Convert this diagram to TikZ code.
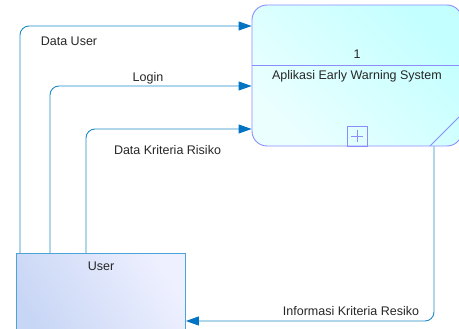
\documentclass[tikz,border=0pt]{standalone}
\usepackage{fontspec}
\setmainfont{Liberation Sans}
\usetikzlibrary{arrows.meta,calc}
\definecolor{flowc}{RGB}{30,140,200}
\definecolor{tipc}{RGB}{0,115,195}
\definecolor{procborder}{RGB}{140,140,255}
\definecolor{proctl}{RGB}{235,255,255}
\definecolor{procbr}{RGB}{195,255,255}
\definecolor{userborder}{RGB}{75,163,218}
\definecolor{usertl}{RGB}{200,214,245}
\definecolor{userbr}{RGB}{238,240,255}
\tikzset{
  flow/.style={draw=flowc, line width=0.9pt, rounded corners=9pt, -{Triangle[length=13pt,width=9pt,fill=tipc,color=tipc]}},
  lbl/.style={font=\fontsize{12.5}{14}\selectfont, inner sep=0pt, text=black!85},
  procbox/.style={draw=procborder, line width=0.9pt, rounded corners=15pt, minimum width=210pt, minimum height=141pt, inner sep=0pt,
     left color=proctl, right color=procbr, shading angle=135},
  userbox/.style={draw=userborder, line width=0.9pt, minimum width=169pt, minimum height=90pt, inner sep=0pt,
     left color=usertl, right color=userbr, shading angle=120},
}
\begin{document}
\begin{tikzpicture}[x=1pt,y=-1pt]
\useasboundingbox (0,0) rectangle (459,329);
\clip (0,0) rectangle (459,329);
% process
\node[procbox] (proc) at (357,75.5) {};
\draw[procborder, line width=0.9pt] (proc.west |- 0,65) -- (proc.east |- 0,65);
\node[lbl] (pnum) at (357,54) {1};
\node[lbl] (ptitle) at (357,76) {Aplikasi Early Warning System};
\node[draw=procborder, line width=0.9pt, minimum width=20pt, minimum height=20pt, inner sep=0pt, anchor=south] (plus) at (proc.south -| 357,0) {};
\draw[procborder, line width=0.8pt] ($(plus.center)+(-6,0)$) -- ($(plus.center)+(6,0)$) ($(plus.center)+(0,-6)$) -- ($(plus.center)+(0,6)$);
\coordinate (dg1) at (430,146);
\coordinate (dg2) at (462,114);
\draw[procborder, line width=0.9pt] (dg1) -- (dg2);
% user
\node[userbox, anchor=north west] (user) at (16,253) {};
\node[lbl] (ulabel) at (101,266) {User};
% flows
\coordinate (u1) at ($(user.north west)+(4,0)$);
\coordinate (u2) at ($(user.north west)+(34,0)$);
\coordinate (u3) at ($(user.north west)+(70,0)$);
\coordinate (p1) at (proc.west |- 0,26);
\coordinate (p2) at (proc.west |- 0,86);
\coordinate (p3) at (proc.west |- 0,129);
\draw[flow] (u1) |- (p1);
\draw[flow] (u2) |- (p2);
\draw[flow] (u3) |- (p3);
\coordinate (po) at (proc.south -| 434,0);
\coordinate (ui) at (user.east |- 0,321);
\draw[flow] (po) |- (ui);
% labels
\node[lbl] (l1) at (69,41) {Data User};
\node[lbl] (l2) at (148,78) {Login};
\node[lbl] (l3) at (167.5,150) {Data Kriteria Risiko};
\node[lbl] (l4) at (351,311) {Informasi Kriteria Resiko};
\end{tikzpicture}
\end{document}
